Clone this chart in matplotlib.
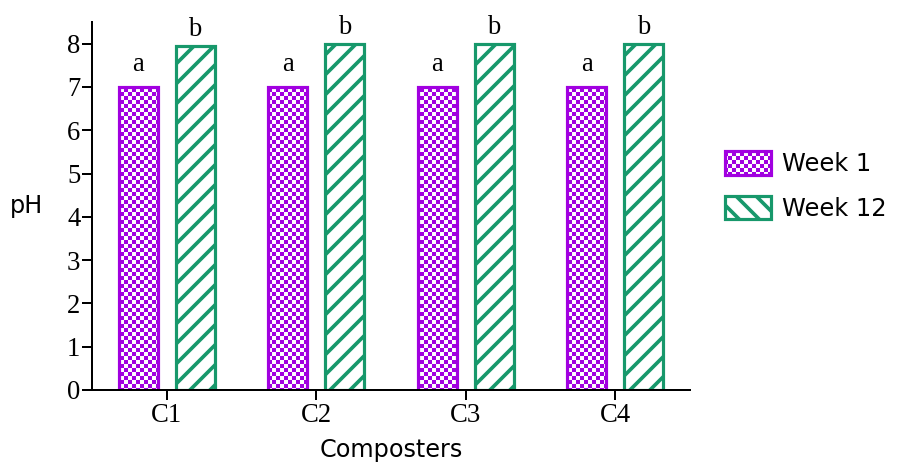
import warnings
import matplotlib
matplotlib.use("Agg")
import matplotlib.pyplot as plt
from matplotlib import hatch as mhatch
from matplotlib.patches import Patch
from matplotlib.path import Path

warnings.filterwarnings("ignore")

# Data
composters = ["C1", "C2", "C3", "C4"]
week1_ph = [7.0, 7.0, 7.0, 7.0]
week12_ph = [7.95, 8.0, 8.0, 8.0]
week1_letters = ["a", "a", "a", "a"]
week12_letters = ["b", "b", "b", "b"]

purple = "#A100E0"
green = "#17986B"


# Checkerboard hatch ('c' in a hatch string), drawn as filled squares
class CheckerHatch(mhatch.HatchPatternBase):
    def __init__(self, hatch, density):
        self.num_cells = int(hatch.count("c") * density)
        n = self.num_cells
        self.num_vertices = (n * n // 2) * 5

    def set_vertices_and_codes(self, vertices, codes):
        n = self.num_cells
        s = 1.0 / n
        k = 0
        for i in range(n):
            for j in range(n):
                if (i + j) % 2 == 0:
                    x0, y0 = i * s, j * s
                    vertices[k:k + 5] = [(x0, y0), (x0 + s, y0), (x0 + s, y0 + s),
                                         (x0, y0 + s), (x0, y0)]
                    codes[k:k + 5] = [Path.MOVETO, Path.LINETO, Path.LINETO,
                                      Path.LINETO, Path.CLOSEPOLY]
                    k += 5


mhatch._hatch_types.append(CheckerHatch)

dpi = 120
fig = plt.figure(figsize=(899 / dpi, 471 / dpi), dpi=dpi)
ax = fig.add_axes([0.1023, 0.172, 0.6652, 0.7813])

x = list(range(len(composters)))
width = 0.26
off = 0.19
checker = "ccccc"
stripe_lw = 2.2

bars1 = ax.bar([i - off for i in x], week1_ph, width, facecolor="white",
               edgecolor=purple, linewidth=1.9, hatch=checker)
bars2 = ax.bar([i + off for i in x], week12_ph, width, facecolor="white",
               edgecolor=green, linewidth=1.9, hatch="//")
for b in bars1:
    b.set_hatch_linewidth(0.01)
for b in bars2:
    b.set_hatch_linewidth(stripe_lw)

serif = "Liberation Serif"
for i in x:
    ax.text(i - off, week1_ph[i] + 0.37, week1_letters[i], ha="center", va="baseline",
            fontsize=16, family=serif)
    ax.text(i + off, week12_ph[i] + 0.22, week12_letters[i], ha="center", va="baseline",
            fontsize=16, family=serif)

ax.set_xlim(-0.5, 3.5)
ax.set_ylim(0, 8.5)
ax.set_yticks(range(0, 9))
ax.set_xticks(x)
ax.set_xticklabels(composters)
for lab in ax.get_xticklabels() + ax.get_yticklabels():
    lab.set_family(serif)
    lab.set_fontsize(16)
ax.tick_params(length=6, width=1.2, pad=1)
ax.tick_params(axis="x", pad=2)

for side in ["top", "right"]:
    ax.spines[side].set_visible(False)
for side in ["left", "bottom"]:
    ax.spines[side].set_linewidth(1.2)

ax.set_xlabel("Composters", fontsize=14.3, family="DejaVu Sans", labelpad=6)
ax.set_ylabel("pH", fontsize=14.3, family="DejaVu Sans", rotation=0,
              ha="center", va="center")
ax.yaxis.set_label_coords(-0.109, 0.5)

h1 = Patch(facecolor="white", edgecolor=purple, linewidth=1.9, hatch=checker)
h2 = Patch(facecolor="white", edgecolor=green, linewidth=1.9, hatch="\\\\")
leg = fig.legend([h1, h2], ["Week 1", "Week 12"], loc="upper left",
                 bbox_to_anchor=(725 / 899, 1 - 151 / 471), frameon=False,
                 prop={"family": "DejaVu Sans", "size": 14.5},
                 handlelength=1.9, handleheight=1.15, handletextpad=0.45,
                 labelspacing=0.8, borderpad=0, borderaxespad=0)
for h in leg.legend_handles:
    h.set_hatch_linewidth(0.01 if h.get_hatch() == checker else stripe_lw)

fig.savefig("out.png", dpi=dpi)
